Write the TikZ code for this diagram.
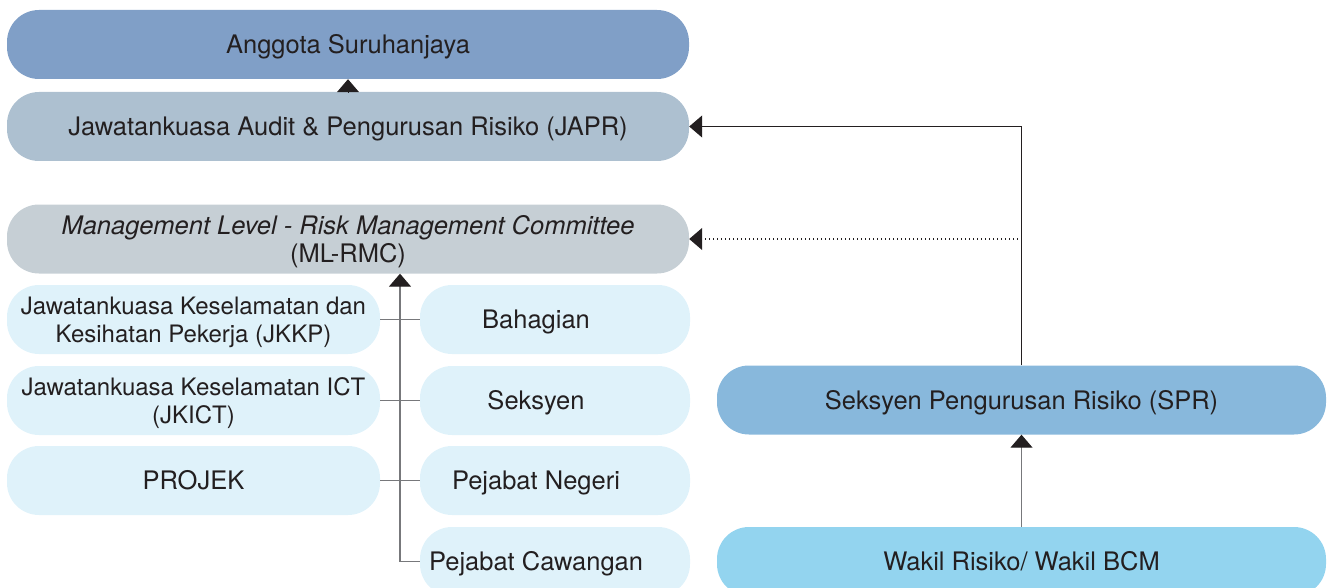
\documentclass[tikz,border=0pt]{standalone}
\usepackage{fontspec}
\setmainfont{TeX Gyre Heros}
\usetikzlibrary{arrows.meta}
\definecolor{cAng}{HTML}{809FC7}
\definecolor{cJapr}{HTML}{ADC0D0}
\definecolor{cMl}{HTML}{C6CFD5}
\definecolor{cLight}{HTML}{DFF2FA}
\definecolor{cSpr}{HTML}{88B8DC}
\definecolor{cWakil}{HTML}{93D4EF}
\definecolor{cText}{HTML}{231F20}
\definecolor{cGrayLine}{HTML}{77787B}
\tikzset{
  box/.style={draw=none, rounded corners=32pt, inner sep=0pt, minimum height=69pt,
    align=center, text=cText, font=\fontsize{25.5}{28}\selectfont},
  oneline/.style={text height=18.3pt, text depth=0pt},
  twoline/.style={text height=46.3pt, text depth=0pt},
  smalltwo/.style={font=\fontsize{24}{28}\selectfont, text height=45.2pt, text depth=0pt},
  widebox/.style={box, minimum width=682pt},
  leftbox/.style={box, fill=cLight, minimum width=373pt},
  rightbox/.style={box, fill=cLight, minimum width=270pt},
  sidebox/.style={box, minimum width=609pt},
  tip/.style={-{Triangle[width=22pt,length=13pt,color=cText,fill=cText]}},
  grayline/.style={draw=cGrayLine, line width=1.4pt},
  darkline/.style={draw=cText, line width=1.1pt},
  rlabel/.style={xshift=-19pt, text=cText, font=\fontsize{25.5}{28}\selectfont, oneline, inner sep=0pt},
}
\begin{document}
\begin{tikzpicture}[x=1pt,y=-1pt]
\useasboundingbox (0,0) rectangle (1332,588);
\clip (0,0) rectangle (1332,588);
% top column
\node[widebox, fill=cAng, oneline] (anggota) at (348,44.5) {Anggota Suruhanjaya};
\node[widebox, fill=cJapr, oneline] (japr) at (348,126.5) {Jawatankuasa Audit \& Pengurusan Risiko (JAPR)};
\node[widebox, fill=cMl, twoline] (mlrmc) at (348,239) {\textit{Management Level - Risk Management Committee}\\(ML-RMC)};
% left boxes
\node[leftbox, smalltwo] (jkkp) at (193.5,319.5) {Jawatankuasa Keselamatan dan\\Kesihatan Pekerja (JKKP)};
\node[leftbox, smalltwo] (jkict) at (193.5,400.5) {Jawatankuasa Keselamatan ICT\\(JKICT)};
\node[leftbox, oneline] (projek) at (193.5,480.5) {PROJEK};
% right boxes
\node[rightbox, label={[rlabel]center:Bahagian}] (bahagian) at (555,319.5) {};
\node[rightbox, label={[rlabel]center:Seksyen}] (seksyen) at (555,400.5) {};
\node[rightbox, label={[rlabel]center:Pejabat Negeri}] (negeri) at (555,480.5) {};
\node[rightbox, label={[rlabel]center:Pejabat Cawangan}] (cawangan) at (555,561.5) {};
% right side
\node[sidebox, fill=cSpr, oneline] (spr) at (1021.5,400) {Seksyen Pengurusan Risiko (SPR)};
\node[sidebox, fill=cWakil, oneline] (wakil) at (1021.5,561.5) {Wakil Risiko/ Wakil BCM};
% connectors
\draw[tip, draw=cText, line width=1pt] (japr.north) -- (anggota.south);
\coordinate (trunk) at (400,561.5);
\draw[grayline] (jkkp.east) -- (bahagian.west);
\draw[grayline] (jkict.east) -- (seksyen.west);
\draw[grayline] (projek.east) -- (negeri.west);
\draw[grayline] (cawangan.west) -- (trunk);
\draw[grayline, tip] (trunk) -- (trunk |- mlrmc.south);
\draw[darkline, tip] (spr.north) |- (japr.east);
\draw[darkline, dash pattern=on 1pt off 3pt, tip] (spr.north |- mlrmc.east) -- (mlrmc.east);
\draw[grayline, tip] (wakil.north) -- (spr.south);
\end{tikzpicture}
\end{document}
